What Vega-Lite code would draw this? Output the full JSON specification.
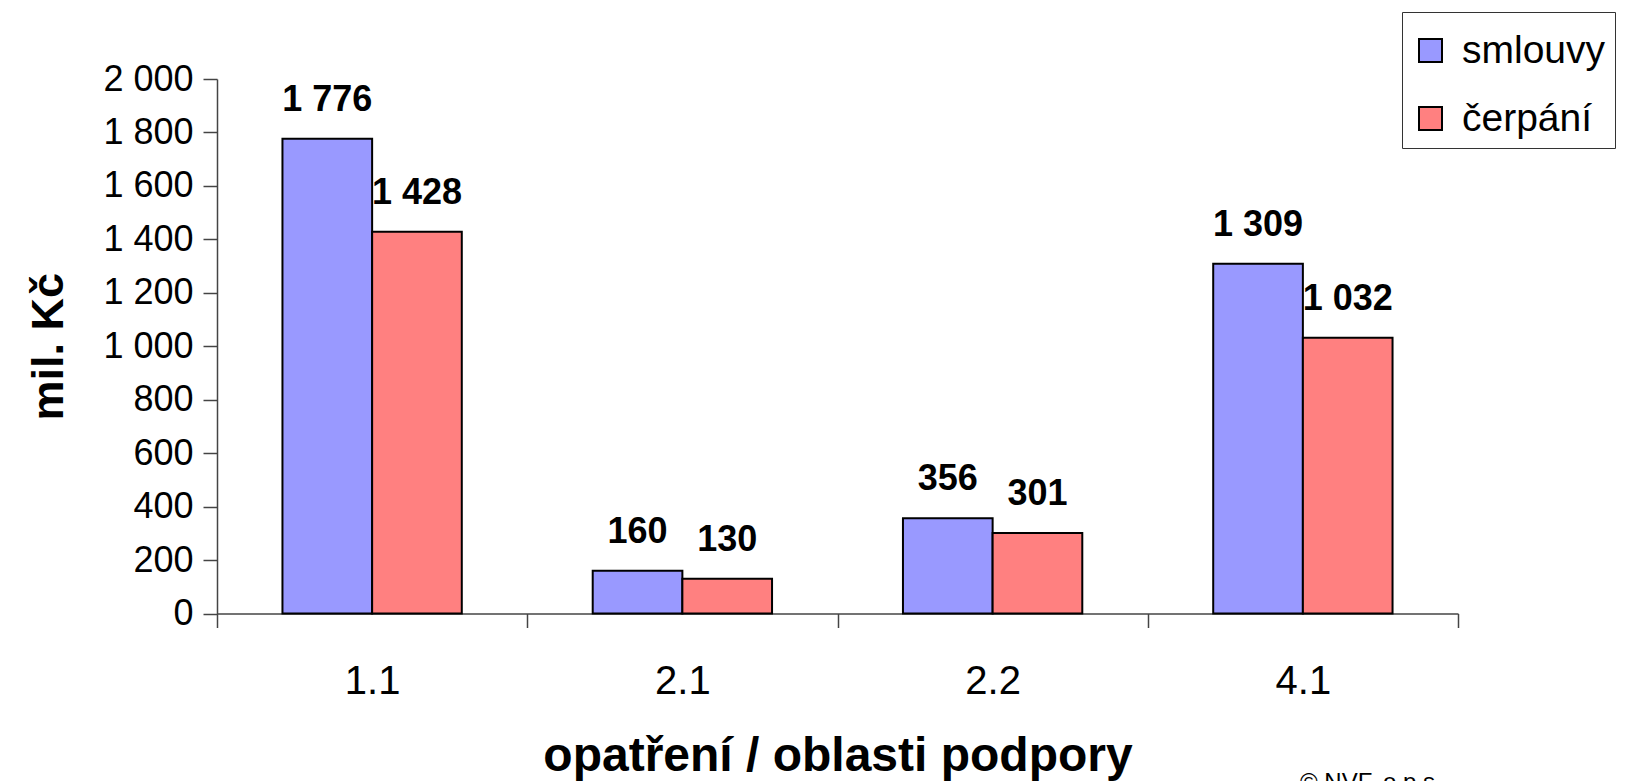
{
  "$schema": "https://vega.github.io/schema/vega-lite/v6.json",
  "autosize": "none",
  "width": 1241,
  "height": 534.5,
  "padding": {"left": 217, "top": 79, "right": 167, "bottom": 167.5},
  "background": "white",
  "title": {"text": "© NVF, o.p.s.", "orient": "bottom", "anchor": "start", "frame": "group", "offset": -10, "dx": 1083, "fontSize": 24, "font": "Liberation Sans", "fontWeight": "normal", "color": "black"},
  "data": {"values": [
    {"oblast": "1.1", "typ": "smlouvy", "hodnota": 1776},
    {"oblast": "1.1", "typ": "čerpání", "hodnota": 1428},
    {"oblast": "2.1", "typ": "smlouvy", "hodnota": 160},
    {"oblast": "2.1", "typ": "čerpání", "hodnota": 130},
    {"oblast": "2.2", "typ": "smlouvy", "hodnota": 356},
    {"oblast": "2.2", "typ": "čerpání", "hodnota": 301},
    {"oblast": "4.1", "typ": "smlouvy", "hodnota": 1309},
    {"oblast": "4.1", "typ": "čerpání", "hodnota": 1032}
  ]},
  "encoding": {
    "x": {
      "field": "oblast", "type": "nominal",
      "scale": {"paddingInner": 0, "paddingOuter": 0},
      "axis": {
        "title": "opatření / oblasti podpory",
        "labelAngle": 0, "tickBand": "extent", "tickSize": 14, "labelPadding": 34,
        "labelFontSize": 40, "labelFont": "Liberation Sans", "labelColor": "black",
        "titleFontSize": 48, "titleFont": "Liberation Sans", "titleFontWeight": "bold", "titleColor": "black", "titlePadding": 31,
        "domainColor": "#444", "tickColor": "#444", "domainWidth": 1.5, "tickWidth": 1.5
      }
    },
    "xOffset": {"field": "typ", "type": "nominal", "sort": ["smlouvy", "čerpání"], "scale": {"paddingInner": 0, "paddingOuter": 0.73}},
    "y": {
      "field": "hodnota", "type": "quantitative",
      "scale": {"domain": [0, 2000], "nice": false},
      "axis": {
        "title": "mil. Kč",
        "values": [0, 200, 400, 600, 800, 1000, 1200, 1400, 1600, 1800, 2000],
        "format": ",.0f",
        "tickSize": 14, "labelPadding": 10,
        "labelFontSize": 36, "labelFont": "Liberation Sans", "labelColor": "black",
        "titleFontSize": 45, "titleFont": "Liberation Sans", "titleFontWeight": "bold", "titleColor": "black", "titlePadding": 31,
        "domainColor": "#444", "tickColor": "#444", "domainWidth": 1.5, "tickWidth": 1.5
      }
    }
  },
  "layer": [
    {
      "mark": {"type": "bar", "stroke": "black", "strokeWidth": 2},
      "encoding": {
        "color": {
          "field": "typ", "type": "nominal",
          "scale": {"domain": ["smlouvy", "čerpání"], "range": ["#9999FF", "#FF8080"]},
          "legend": {
            "title": " ", "titleFontSize": 5, "titlePadding": 5,
            "orient": "none", "legendX": 1185, "legendY": -67,
            "symbolType": "square", "symbolSize": 529, "symbolStrokeColor": "black", "symbolStrokeWidth": 2, "symbolOpacity": 1,
            "labelFontSize": 39, "labelFont": "Liberation Sans", "labelColor": "black", "labelOffset": 12, "labelLimit": 300,
            "padding": 9, "rowPadding": 28, "strokeColor": "#333", "fillColor": "white"
          }
        }
      }
    },
    {
      "mark": {"type": "text", "baseline": "bottom", "dy": -20, "fontSize": 36, "fontWeight": "bold", "font": "Liberation Sans", "color": "black"},
      "encoding": {"text": {"field": "hodnota", "type": "quantitative", "format": ",.0f"}}
    }
  ],
  "config": {
    "locale": {"number": {"decimal": ",", "thousands": " ", "grouping": [3], "currency": ["", ""]}},
    "view": {"stroke": null},
    "axis": {"grid": false}
  }
}
